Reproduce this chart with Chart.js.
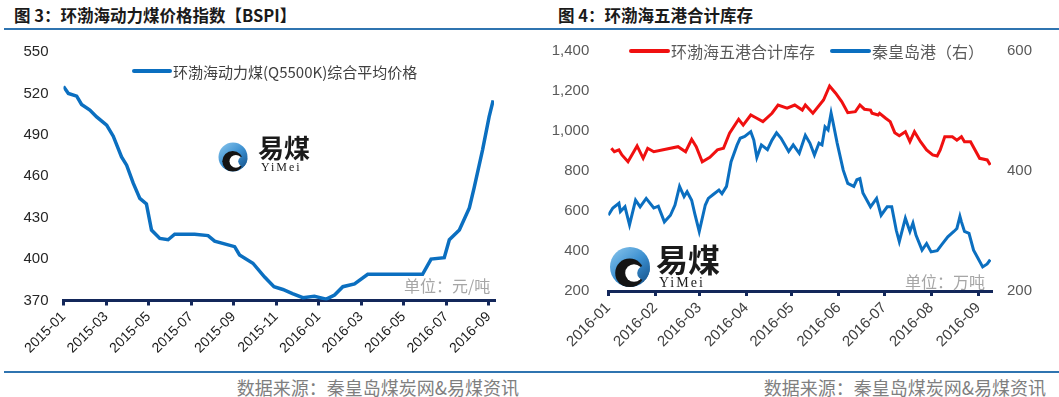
<!DOCTYPE html>
<html>
<head>
<meta charset="utf-8">
<script src="https://cdn.jsdelivr.net/npm/chart.js@4.4.1/dist/chart.umd.min.js"></script>
<style>
  body { margin: 0; background: #fff; width: 1059px; height: 397px; position: relative; overflow: hidden; font-family: "Noto Sans CJK SC", sans-serif; }
  canvas { position: absolute; }
  .t { position: absolute; white-space: nowrap; z-index: 2; }
  .title { font-size: 16.5px; font-weight: bold; color: #1a1a1a; line-height: 20px; }
  .src { font-size: 18px; color: #7f7f7f; line-height: 22px; }
  .unit { font-size: 16px; color: #a6a6a6; line-height: 20px; }
  .rule { position: absolute; height: 2px; background: #2f74b0; }
</style>
</head>
<body>
<canvas id="bspi" width="530" height="340" style="left:0;top:30px"></canvas>
<canvas id="stock" width="529" height="340" style="left:530px;top:30px"></canvas>

<div class="t title" style="left:14px;top:5px">图 3：环渤海动力煤价格指数【BSPI】</div>
<div class="t title" style="left:558px;top:5px">图 4：环渤海五港合计库存</div>
<div class="rule" style="left:4px;top:28px;width:1055px"></div>
<div class="rule" style="left:4px;top:371px;width:1055px"></div>
<div class="t unit" style="left:404px;top:275px">单位：元/吨</div>
<div class="t unit" style="left:905px;top:271px">单位：万吨</div>
<div class="t src" style="right:540px;top:376px">数据来源：秦皇岛煤炭网&amp;易煤资讯</div>
<div class="t src" style="right:13px;top:376px">数据来源：秦皇岛煤炭网&amp;易煤资讯</div>

<script>
// 图3 BSPI：x = 自2015-01起的月数
const bspiMonth = [0, 0.23, 0.62, 0.85, 1.24, 1.56, 2.03, 2.34, 2.73, 2.97, 3.28, 3.59, 3.9, 4.14, 4.53, 4.92,
  5.23, 6.17, 6.8, 7.11, 8.05, 8.28, 8.91, 9.46, 9.9, 10.32, 10.77, 11.26, 11.8, 12.36, 12.75, 13.14,
  13.69, 14.31, 16.89, 17.29, 17.91, 18.15, 18.62, 19.09, 19.32, 19.71, 20.02, 20.21];
const bspiValue = [525, 520, 518, 512, 508, 503, 497, 489, 474, 468, 455, 444, 440, 421, 415, 414,
  418, 418, 417, 413, 409, 403, 397, 387, 380, 378, 375, 372, 373, 371, 374, 380,
  382, 389, 389, 400, 401, 414, 421, 437, 452, 479, 503, 515];
const bspiTickMonths = [0, 2, 4, 6, 8, 10, 12, 14, 16, 18, 20];
const bspiTickLabels = ['2015-01', '2015-03', '2015-05', '2015-07', '2015-09', '2015-11',
  '2016-01', '2016-03', '2016-05', '2016-07', '2016-09'];

// 图4 库存：x = 2016年的第几天（1月1日 = 0）
const bohaiDay = [2, 4, 7, 9, 13, 19, 23, 26, 30, 46, 51, 55, 58, 62, 67, 72, 76, 80, 86, 89, 94, 98, 102,
  108, 112, 118, 123, 128, 130, 135, 142, 146, 150, 154, 158, 163, 166, 169, 173, 174, 178, 179, 183,
  186, 189, 192, 196, 199, 202, 206, 210, 214, 217, 219, 222, 227, 230, 233, 235, 239, 245, 250, 252];
const bohaiStock = [912, 895, 904, 879, 845, 924, 862, 912, 895, 920, 895, 957, 920, 845, 867, 904, 912, 987, 1057, 1028, 1078, 1062, 1045,
  1087, 1128, 1112, 1128, 1103, 1128, 1087, 1153, 1223, 1187, 1145, 1090, 1095, 1128, 1107, 1103, 1087, 1078, 1087, 1062,
  1045, 990, 975, 995, 945, 995, 945, 904, 879, 874, 904, 970, 970, 953, 970, 945, 945, 862, 854, 829];
const qhdDay = [0, 3, 7, 8, 11, 14, 18, 21, 25, 30, 33, 37, 41, 44, 47, 50, 52, 55, 57, 60, 64, 66, 69, 73,
  75, 78, 81, 85, 87, 90, 94, 96, 98, 101, 105, 108, 111, 114, 119, 122, 126, 130, 133, 136, 139, 141,
  143, 145, 147, 148, 151, 155, 158, 162, 164, 166, 168, 173, 177, 180, 184, 187, 190, 192, 196, 199,
  201, 203, 207, 210, 213, 217, 220, 224, 228, 230, 232, 233, 235, 238, 241, 244, 247, 250, 252];
const qhdStock = [326, 338, 346, 332, 340, 310, 351, 340, 354, 338, 341, 315, 326, 343, 374, 357, 365, 351, 329, 299, 343, 354, 360, 368,
  362, 374, 415, 443, 454, 457, 465, 451, 422, 443, 435, 451, 463, 454, 432, 443, 429, 459, 446, 426, 446, 443,
  473, 468, 496, 484, 446, 401, 379, 374, 385, 387, 363, 340, 354, 326, 340, 340, 301, 282, 321, 299,
  313, 293, 268, 279, 265, 267, 277, 290, 299, 304, 324, 315, 299, 296, 268, 254, 240, 245, 252];
const stockTickDays = [0, 31, 60, 91, 121, 152, 182, 213, 244];
const stockTickLabels = ['2016-01', '2016-02', '2016-03', '2016-04', '2016-05', '2016-06', '2016-07', '2016-08', '2016-09'];

Chart.defaults.font.family = '"Liberation Sans", "Noto Sans CJK SC", sans-serif';

const navy = '#13275a';
const blue = '#0b6fc0';
const red = '#f01010';

function toPoints(xs, ys) {
  return xs.map((x, i) => ({ x: x, y: ys[i] }));
}

// legend drawn as a short thick line + label
function lineLegend(items, fontSize, color) {
  return {
    id: 'lineLegend',
    afterDraw(chart) {
      const ctx = chart.ctx;
      ctx.save();
      items.forEach(it => {
        const ds = chart.data.datasets[it.index];
        ctx.strokeStyle = ds.borderColor;
        ctx.lineWidth = 4;
        ctx.lineCap = 'round';
        ctx.beginPath();
        ctx.moveTo(it.x0, it.y);
        ctx.lineTo(it.x1, it.y);
        ctx.stroke();
        ctx.font = fontSize + 'px "Noto Sans CJK SC"';
        ctx.fillStyle = color;
        ctx.textBaseline = 'middle';
        ctx.fillText(ds.label, it.x1 + 3, it.y + 1);
      });
      ctx.restore();
    }
  };
}

// 易煤 logo
function logo(cx, cy, r, tx, ty, fs, fs2, ty2) {
  return {
    id: 'logo',
    beforeDatasetsDraw(chart) {
      const ctx = chart.ctx;
      ctx.save();
      const g = ctx.createLinearGradient(cx - r, cy - r, cx + r * 0.6, cy + r);
      g.addColorStop(0, '#8cc8ee');
      g.addColorStop(0.55, '#3b8fd0');
      g.addColorStop(1, '#17568f');
      ctx.fillStyle = g;
      ctx.beginPath(); ctx.arc(cx, cy, r, 0, Math.PI * 2); ctx.fill();
      ctx.save();
      ctx.beginPath(); ctx.arc(cx, cy, r, 0, Math.PI * 2); ctx.clip();
      ctx.fillStyle = '#141414';
      ctx.beginPath(); ctx.arc(cx - r * 0.02, cy + r * 0.3, r * 0.72, 0, Math.PI * 2); ctx.fill();
      ctx.fillStyle = '#ffffff';
      ctx.beginPath(); ctx.arc(cx + r * 0.2, cy + r * 0.3, r * 0.44, 0, Math.PI * 2); ctx.fill();
      ctx.fillStyle = g;
      ctx.beginPath(); ctx.arc(cx + r * 0.72, cy + r * 0.3, r * 0.36, 0, Math.PI * 2); ctx.fill();
      ctx.restore();
      ctx.fillStyle = '#1a1a1a';
      ctx.textBaseline = 'middle';
      ctx.font = 'bold ' + fs + 'px "Noto Sans CJK SC"';
      ctx.fillText('易煤', tx, ty);
      ctx.font = fs2 + 'px "Liberation Serif"';
      ctx.letterSpacing = '2px';
      ctx.fillText('YiMei', tx + 3, ty2);
      ctx.restore();
    }
  };
}

function dateAxis(min, max, tickVals, tickLabels, height, size, color) {
  return {
    type: 'linear',
    min: min,
    max: max,
    afterBuildTicks: s => { s.ticks = tickVals.map(v => ({ value: v })); },
    afterFit: s => { s.height = height; },
    ticks: {
      autoSkip: false, minRotation: 45, maxRotation: 45, padding: 3,
      color: color, font: { size: size },
      callback: v => { const i = tickVals.indexOf(v); return i < 0 ? '' : tickLabels[i]; }
    },
    grid: { drawOnChartArea: false, drawTicks: true, tickLength: 5, color: navy, lineWidth: 3 },
    border: { color: navy, width: 3 }
  };
}

// value axis: gap to the plot is an invisible tick length, so it does not pad the top
function valueAxis(pos, min, max, step, width, gap, color, size, fmt) {
  return {
    position: pos, min: min, max: max,
    afterFit: s => { s.width = width; },
    ticks: { stepSize: step, padding: 0, color: color, font: { size: size }, callback: fmt },
    grid: { display: false, drawTicks: true, tickLength: gap },
    border: { display: false }
  };
}

new Chart(document.getElementById('bspi'), {
  type: 'line',
  data: {
    datasets: [{
      label: '环渤海动力煤(Q5500K)综合平均价格',
      data: toPoints(bspiMonth, bspiValue),
      borderColor: blue, borderWidth: 3.5, pointRadius: 0, tension: 0
    }]
  },
  options: {
    responsive: false, animation: false,
    layout: { padding: { left: 0, top: 22, right: 36, bottom: 0 } },
    plugins: { legend: { display: false }, tooltip: { enabled: false } },
    scales: {
      x: dateAxis(0, 20.25, bspiTickMonths, bspiTickLabels, 69.5, 14, '#1a1a1a'),
      y: valueAxis('left', 370, 550, 30, 63.5, 15, '#262626', 15, v => v)
    }
  },
  plugins: [
    lineLegend([{ index: 0, x0: 134, x1: 170, y: 41 }], 15, '#404040'),
    logo(233, 127, 14.5, 258, 118, 26, 12, 138)
  ]
});

new Chart(document.getElementById('stock'), {
  type: 'line',
  data: {
    datasets: [
      {
        label: '环渤海五港合计库存',
        data: toPoints(bohaiDay, bohaiStock),
        borderColor: red, borderWidth: 3, pointRadius: 0, tension: 0, yAxisID: 'y'
      },
      {
        label: '秦皇岛港（右）',
        data: toPoints(qhdDay, qhdStock),
        borderColor: blue, borderWidth: 3, pointRadius: 0, tension: 0, yAxisID: 'y2'
      }
    ]
  },
  options: {
    responsive: false, animation: false,
    layout: { padding: { left: 0, top: 20.5, right: 0, bottom: 0 } },
    plugins: { legend: { display: false }, tooltip: { enabled: false } },
    scales: {
      x: dateAxis(0, 252.5, stockTickDays, stockTickLabels, 79, 15, '#404040'),
      y: valueAxis('left', 200, 1400, 200, 78.3, 19, '#595959', 15, v => v.toLocaleString('en-US')),
      y2: valueAxis('right', 200, 600, 200, 68, 16, '#595959', 15, v => v)
    }
  },
  plugins: [
    lineLegend([{ index: 0, x0: 101, x1: 138, y: 21 }, { index: 1, x0: 302, x1: 339, y: 21 }], 16, '#595959'),
    logo(100, 237, 20, 126, 230, 32, 14, 253)
  ]
});
</script>
</body>
</html>
